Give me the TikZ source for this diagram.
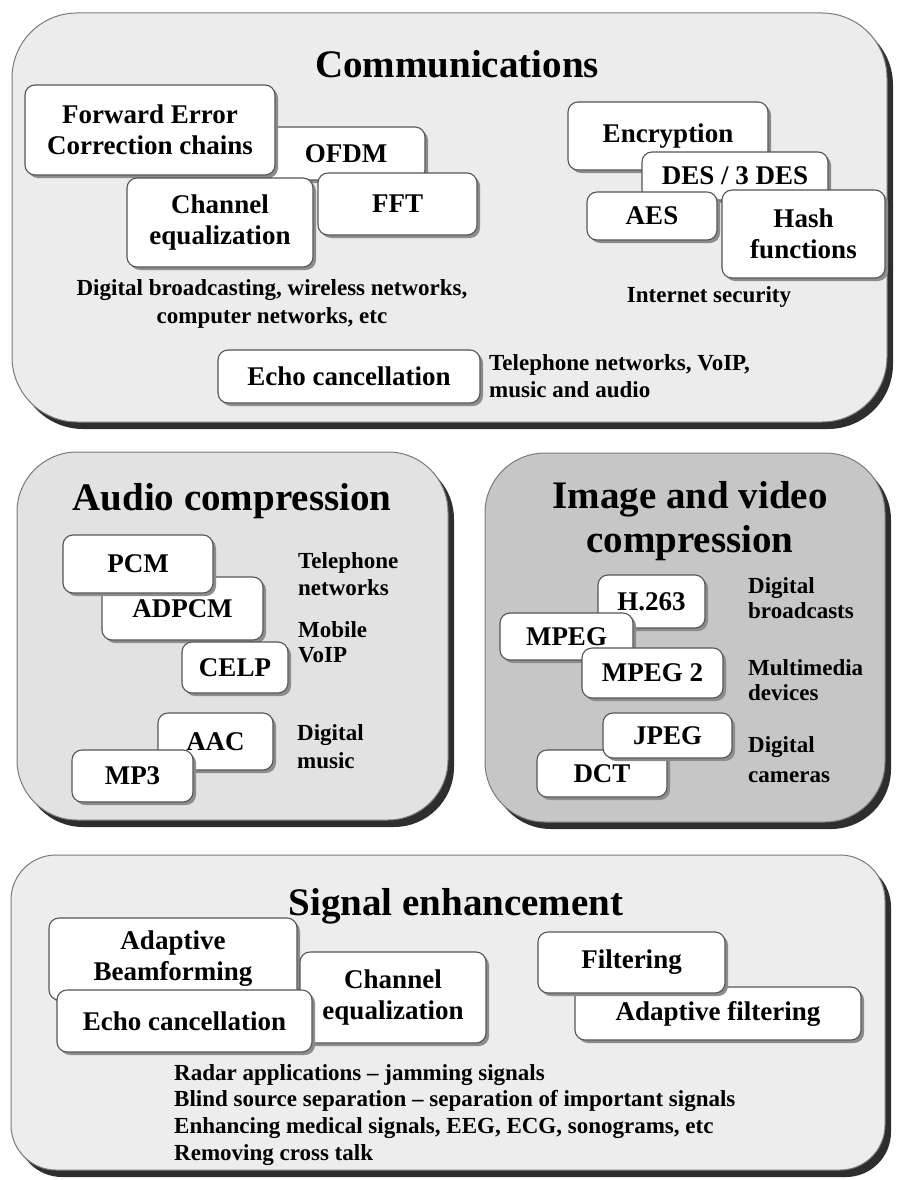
\documentclass[tikz,border=0pt]{standalone}
\usepackage{fontspec}
\setmainfont{Liberation Serif}
\usetikzlibrary{shadows}
\definecolor{commfill}{HTML}{ECECEC}
\definecolor{audiofill}{HTML}{E2E2E2}
\definecolor{imgfill}{HTML}{C6C6C6}
\definecolor{sigfill}{HTML}{EDEDED}
\definecolor{boxline}{HTML}{555555}
\definecolor{bigline}{HTML}{7A7A7A}
\definecolor{bigshadow}{HTML}{2E2E2E}
\definecolor{smallshadow}{HTML}{8C8C8C}
\begin{document}
\begin{tikzpicture}[x=1pt,y=-1pt,
  panel/.style={draw=bigline, line width=1pt, rounded corners=#1, inner sep=0pt,
    drop shadow={shadow xshift=6pt, shadow yshift=-7pt, fill=bigshadow, opacity=1}},
  item/.style={draw=boxline, line width=1.1pt, fill=white, rounded corners=10pt,
    align=center, inner sep=0pt, font=\bfseries\fontsize{27}{31}\selectfont,
    drop shadow={shadow xshift=3pt, shadow yshift=-3pt, fill=smallshadow, opacity=1}},
  note/.style={inner sep=0pt, font=\bfseries\fontsize{23}{27}\selectfont},
  ttl/.style={inner sep=0pt, font=\bfseries\fontsize{39}{44}\selectfont}]
\useasboundingbox[fill=white] (0,0) rectangle (897,1180);

% ---------- Communications ----------
\node[panel=65pt, fill=commfill, minimum width=875pt, minimum height=409pt] (comm) at (449.5,217.5) {};
\node[ttl, anchor=base] (commt) at (457,78) {Communications};
\node[item, minimum width=158pt, minimum height=53pt] (ofdm) at (346,153.5) {OFDM};
\node[item, minimum width=250pt, minimum height=90pt] (fec) at (150,130) {Forward Error\\Correction chains};
\node[item, minimum width=159pt, minimum height=62pt] (fft) at (397.5,204) {FFT};
\node[item, minimum width=186pt, minimum height=89pt] (chan1) at (220,222.5) {Channel\\equalization};
\node[note, anchor=north, align=center, font=\bfseries\fontsize{23}{28}\selectfont] (bcast) at (272,279) {Digital broadcasting, wireless networks,\\computer networks, etc};
\node[item, minimum width=200pt, minimum height=68pt] (enc) at (668,136) {Encryption};
\node[item, minimum width=186pt, minimum height=48pt] (des) at (735,176) {DES / 3 DES};
\node[item, minimum width=130pt, minimum height=48pt] (aes) at (652,216) {AES};
\node[item, minimum width=163pt, minimum height=88pt] (hash) at (803.5,234) {Hash\\functions};
\node[note, anchor=base] (isec) at (709,302) {Internet security};
\node[item, minimum width=262pt, minimum height=53pt] (echo1) at (349,376.5) {Echo cancellation};
\node[note, anchor=north west, align=left] (tel1) at (489,354) {Telephone networks, VoIP,\\music and audio};

% ---------- Audio compression ----------
\node[panel=60pt, fill=audiofill, minimum width=431pt, minimum height=368pt] (audio) at (232.5,636) {};
\node[ttl, anchor=base] (audiot) at (232,510) {Audio compression};
\node[item, minimum width=161pt, minimum height=63pt] (adpcm) at (182.5,608.5) {ADPCM};
\node[item, minimum width=150pt, minimum height=58pt] (pcm) at (138,564) {PCM};
\node[item, minimum width=106pt, minimum height=51pt] (celp) at (235,667.5) {CELP};
\node[item, minimum width=115pt, minimum height=57pt] (aac) at (215.5,741.5) {AAC};
\node[item, minimum width=121pt, minimum height=52pt] (mp3) at (132.5,776) {MP3};
\node[note, anchor=north west, align=left] (telnet) at (298,552) {Telephone\\networks};
\node[note, anchor=north west, align=left, font=\bfseries\fontsize{23}{25}\selectfont] (mobile) at (298,621) {Mobile\\VoIP};
\node[note, anchor=north west, align=left, font=\bfseries\fontsize{23}{28}\selectfont] (dmusic) at (297,724) {Digital\\music};

% ---------- Image and video compression ----------
\node[panel=60pt, fill=imgfill, minimum width=400pt, minimum height=369pt] (image) at (685,637.5) {};
\node[ttl, anchor=north, align=center] (imaget) at (690,481.5) {Image and video\\compression};
\node[item, minimum width=107pt, minimum height=53pt] (h263) at (651.5,601.5) {H.263};
\node[item, minimum width=133pt, minimum height=47pt] (mpeg) at (566.5,636.5) {MPEG};
\node[item, minimum width=141pt, minimum height=50pt] (mpeg2) at (652.5,673) {MPEG 2};
\node[item, minimum width=130pt, minimum height=47pt] (dct) at (602,773.5) {DCT};
\node[item, minimum width=129pt, minimum height=45pt] (jpeg) at (667.5,735.5) {JPEG};
\node[note, anchor=north west, align=left, font=\bfseries\fontsize{23}{25}\selectfont] (dbc) at (748,577) {Digital\\broadcasts};
\node[note, anchor=north west, align=left, font=\bfseries\fontsize{23}{25}\selectfont] (mmd) at (748,659) {Multimedia\\devices};
\node[note, anchor=north west, align=left, font=\bfseries\fontsize{23}{30}\selectfont] (dcam) at (748,736) {Digital\\cameras};

% ---------- Signal enhancement ----------
\node[panel=45pt, fill=sigfill, minimum width=874pt, minimum height=315pt] (signal) at (448,1012.5) {};
\node[ttl, anchor=base] (signalt) at (456,915) {Signal enhancement};
\node[item, minimum width=248pt, minimum height=82pt] (beam) at (173,959) {Adaptive\\Beamforming};
\node[item, minimum width=186pt, minimum height=91pt] (chan2) at (393,997.5) {Channel\\equalization};
\node[item, minimum width=255pt, minimum height=62pt] (echo2) at (184.5,1021) {Echo cancellation};
\node[item, minimum width=286pt, minimum height=53pt] (afilt) at (718,1013.5) {Adaptive filtering};
\node[item, minimum width=187pt, minimum height=61pt] (filt) at (631.5,962.5) {Filtering};
\node[note, anchor=north west, align=left, font=\bfseries\fontsize{23}{26.7}\selectfont] (apps) at (174,1064) {Radar applications -- jamming signals\\Blind source separation -- separation of important signals\\Enhancing medical signals, EEG, ECG, sonograms, etc\\Removing cross talk};
\end{tikzpicture}
\end{document}
